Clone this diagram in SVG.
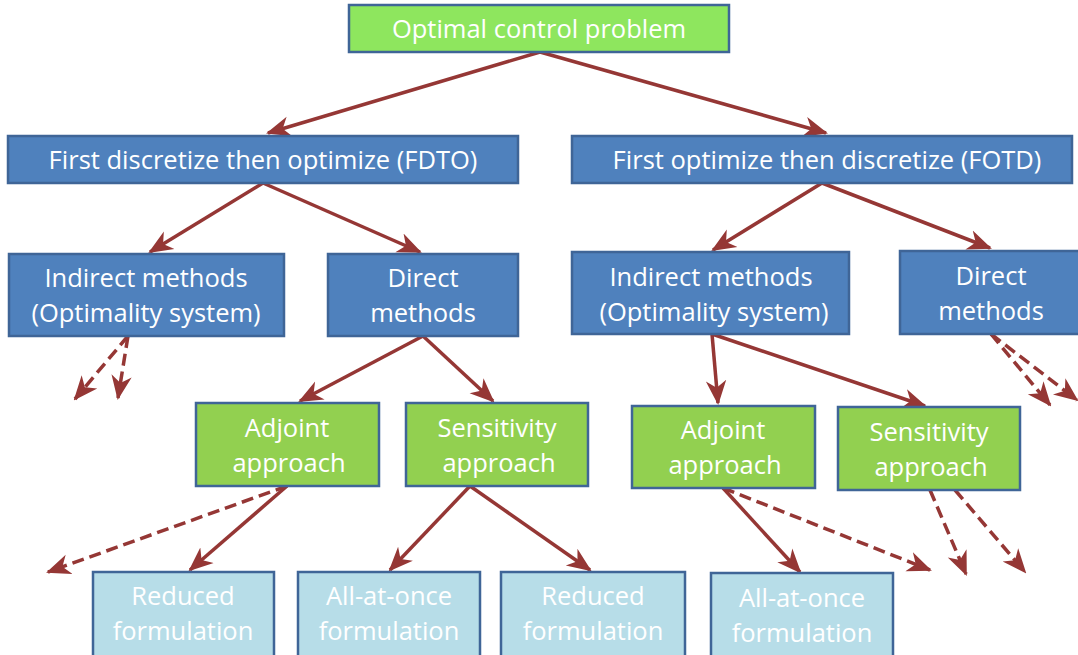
<svg xmlns="http://www.w3.org/2000/svg" width="1078" height="655" viewBox="0 0 1078 655">
<style>
.box{stroke:#3F6597;stroke-width:2.5}
.g1{fill:#8EE65E}
.b{fill:#4F81BD}
.g{fill:#92D050}
.lb{fill:#B7DDE8}
text{font-family:"Open Sans","Liberation Sans",Arial,sans-serif;font-size:25.5px;fill:#FFFFFF;text-anchor:middle}
.c{stroke:#953735;stroke-width:3.5;fill:none;marker-end:url(#ah)}
.d{stroke-dasharray:12,6}
</style>
<defs>
<marker id="ah" viewBox="0 0 12 10" refX="11" refY="5" markerWidth="7" markerHeight="6.5" orient="auto" markerUnits="strokeWidth">
<path d="M0,0 L12,5 L0,10 L3.5,5 z" fill="#953735"/>
</marker>
</defs>
<rect width="1078" height="655" fill="#FFFFFF"/>
<g id="connectors">
<line class="c" x1="540" y1="52" x2="268" y2="133"/>
<line class="c" x1="540" y1="52" x2="826" y2="133"/>
<line class="c" x1="263" y1="183" x2="150" y2="252"/>
<line class="c" x1="263" y1="183" x2="420" y2="252"/>
<line class="c" x1="822" y1="183" x2="713" y2="250"/>
<line class="c" x1="822" y1="183" x2="990" y2="248"/>
<line class="c d" x1="128" y1="336" x2="75" y2="399"/>
<line class="c d" x1="128" y1="336" x2="118" y2="398"/>
<line class="c" x1="423" y1="336" x2="300" y2="401"/>
<line class="c" x1="423" y1="336" x2="493" y2="401"/>
<line class="c" x1="712" y1="334" x2="718" y2="403"/>
<line class="c" x1="712" y1="334" x2="925" y2="406"/>
<line class="c d" x1="991" y1="334" x2="1050" y2="405"/>
<line class="c d" x1="991" y1="334" x2="1077" y2="400"/>
<line class="c" x1="287" y1="486" x2="190" y2="570"/>
<line class="c d" x1="287" y1="486" x2="48" y2="572"/>
<line class="c" x1="470" y1="486" x2="390" y2="570"/>
<line class="c" x1="470" y1="486" x2="590" y2="570"/>
<line class="c" x1="723" y1="488" x2="800" y2="572"/>
<line class="c d" x1="723" y1="488" x2="930" y2="570"/>
<line class="c d" x1="930" y1="490" x2="966" y2="574"/>
<line class="c d" x1="955" y1="490" x2="1025" y2="572"/>
</g>
<g id="n-ocp"><rect class="box g1" x="349" y="5" width="380" height="47"/><text x="539" y="38">Optimal control problem</text></g>
<g id="n-fdto"><rect class="box b" x="8" y="136" width="510" height="47"/><text x="263" y="169">First discretize then optimize (FDTO)</text></g>
<g id="n-fotd"><rect class="box b" x="572" y="136" width="500" height="47"/><text x="827" y="169">First optimize then discretize (FOTD)</text></g>
<g id="n-ind1"><rect class="box b" x="9" y="254" width="275" height="82"/><text x="146" y="287">Indirect methods</text><text x="146" y="322">(Optimality system)</text></g>
<g id="n-dir1"><rect class="box b" x="328" y="254" width="190" height="82"/><text x="423" y="287">Direct</text><text x="423" y="322">methods</text></g>
<g id="n-ind2"><rect class="box b" x="572" y="252" width="277" height="82"/><text x="711" y="286">Indirect methods</text><text x="714" y="321">(Optimality system)</text></g>
<g id="n-dir2"><rect class="box b" x="900" y="251" width="180" height="83"/><text x="991" y="285">Direct</text><text x="991" y="320">methods</text></g>
<g id="n-adj1"><rect class="box g" x="196" y="403" width="183" height="83"/><text x="287" y="437">Adjoint</text><text x="289" y="472">approach</text></g>
<g id="n-sen1"><rect class="box g" x="406" y="403" width="182" height="83"/><text x="497" y="437">Sensitivity</text><text x="499" y="472">approach</text></g>
<g id="n-adj2"><rect class="box g" x="632" y="406" width="183" height="82"/><text x="723" y="439">Adjoint</text><text x="725" y="474">approach</text></g>
<g id="n-sen2"><rect class="box g" x="838" y="407" width="182" height="83"/><text x="929" y="441">Sensitivity</text><text x="931" y="476">approach</text></g>
<g id="n-red1"><rect class="box lb" x="93" y="572" width="181" height="90"/><text x="183" y="605">Reduced</text><text x="183" y="640">formulation</text></g>
<g id="n-aao1"><rect class="box lb" x="298" y="572" width="182" height="90"/><text x="389" y="605">All-at-once</text><text x="389" y="640">formulation</text></g>
<g id="n-red2"><rect class="box lb" x="501" y="572" width="184" height="90"/><text x="593" y="605">Reduced</text><text x="593" y="640">formulation</text></g>
<g id="n-aao2"><rect class="box lb" x="711" y="573" width="182" height="90"/><text x="802" y="607">All-at-once</text><text x="802" y="642">formulation</text></g>
</svg>
